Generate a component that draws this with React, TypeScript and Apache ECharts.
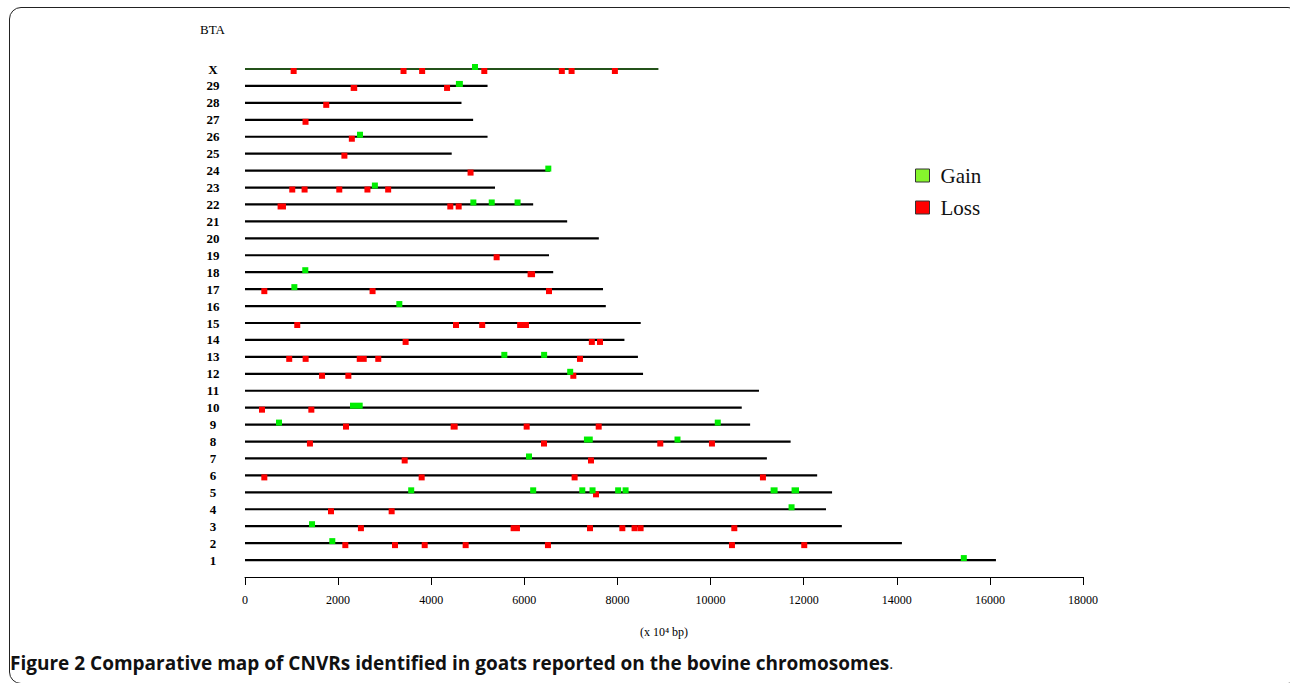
import React, { useEffect, useRef } from "react";
import * as echarts from "echarts";

// Bovine chromosomes (BTA), bottom to top
const chromosomes = [
  "1", "2", "3", "4", "5", "6", "7", "8", "9", "10",
  "11", "12", "13", "14", "15", "16", "17", "18", "19", "20",
  "21", "22", "23", "24", "25", "26", "27", "28", "29", "X",
];

// chromosome lengths (x 10^4 bp)
const chromLengths = [
  16130, 14110, 12820, 12480, 12610, 12290, 11210, 11720, 10850, 10670,
  11040, 8550, 8440, 8150, 8500, 7750, 7690, 6620, 6530, 7600,
  6920, 6190, 5370, 6550, 4440, 5210, 4900, 4650, 5210, 8880,
];

// [chromosome, start, end] (x 10^4 bp)
const gainCNVRs: [string, number, number][] = [
  ["X", 4880, 5000],
  ["29", 4530, 4680],
  ["26", 2430, 2510],
  ["24", 6470, 6560],
  ["23", 2750, 2830],
  ["22", 4870, 4940], ["22", 5260, 5340], ["22", 5820, 5890],
  ["18", 1230, 1360],
  ["17", 1030, 1090],
  ["16", 3280, 3350],
  ["13", 5530, 5610], ["13", 6390, 6460],
  ["12", 6950, 7020],
  ["10", 2255, 2528],
  ["9", 690, 770], ["9", 10120, 10190],
  ["8", 7280, 7470], ["8", 9250, 9330],
  ["7", 6060, 6140],
  ["5", 3540, 3600], ["5", 6150, 6230], ["5", 7210, 7280], ["5", 7430, 7500],
  ["5", 7980, 8050], ["5", 8140, 8210], ["5", 11290, 11440], ["5", 11740, 11900],
  ["4", 11700, 11780],
  ["3", 1400, 1480],
  ["2", 1830, 1920],
  ["1", 15400, 15480],
];

const lossCNVRs: [string, number, number][] = [
  ["X", 1010, 1080], ["X", 3370, 3440], ["X", 3770, 3840], ["X", 5100, 5180],
  ["X", 6770, 6840], ["X", 6980, 7050], ["X", 7910, 7980],
  ["29", 2270, 2410], ["29", 4300, 4380],
  ["28", 1710, 1780],
  ["27", 1260, 1340],
  ["26", 2260, 2330],
  ["25", 2100, 2170],
  ["24", 4800, 4890],
  ["23", 980, 1050], ["23", 1240, 1320], ["23", 1990, 2060], ["23", 2590, 2670], ["23", 3040, 3110],
  ["22", 700, 880], ["22", 4375, 4445], ["22", 4555, 4625],
  ["19", 5360, 5450],
  ["18", 6070, 6230],
  ["17", 375, 455], ["17", 2700, 2780], ["17", 6490, 6570],
  ["15", 1085, 1160], ["15", 4500, 4565], ["15", 5060, 5130], ["15", 5875, 5945], ["15", 6000, 6070],
  ["14", 3410, 3490], ["14", 7410, 7490], ["14", 7590, 7660],
  ["13", 910, 990], ["13", 1265, 1340], ["13", 2400, 2615], ["13", 2830, 2895], ["13", 7155, 7235],
  ["12", 1620, 1690], ["12", 2180, 2260], ["12", 7010, 7095],
  ["10", 325, 405], ["10", 1395, 1455],
  ["9", 2130, 2210], ["9", 4417, 4568], ["9", 6020, 6080], ["9", 7560, 7635],
  ["8", 1360, 1430], ["8", 6390, 6455], ["8", 8885, 8955], ["8", 9990, 10070],
  ["7", 3395, 3465], ["7", 7400, 7465],
  ["6", 375, 455], ["6", 3755, 3835], ["6", 7040, 7120], ["6", 11085, 11165],
  ["5", 7500, 7580],
  ["4", 1805, 1890], ["4", 3110, 3190],
  ["3", 2450, 2530], ["3", 5705, 5906], ["3", 7370, 7450], ["3", 8065, 8145],
  ["3", 8330, 8405], ["3", 8460, 8535], ["3", 10470, 10550],
  ["2", 2120, 2190], ["2", 3180, 3265], ["2", 3820, 3900], ["2", 4705, 4775],
  ["2", 6470, 6545], ["2", 10420, 10500], ["2", 11970, 12055],
];

const xMin = 0;
const xMax = 18000;
const xInterval = 2000;

const rowOf = (c: string) => chromosomes.indexOf(c) + 1;

export default function App() {
  const ref = useRef<HTMLDivElement>(null);

  useEffect(() => {
    if (!ref.current) return;
    const chart = echarts.init(ref.current, null, { renderer: "svg" });

    const lineData = chromLengths.map((len, i) => [i + 1, len]);
    const gainData = gainCNVRs.map(([c, s, e]) => [rowOf(c), s, e]);
    const lossData = lossCNVRs.map(([c, s, e]) => [rowOf(c), s, e]);

    const markerRenderer = (dy: number, color: string) => (params: any, api: any) => {
      const row = api.value(0);
      const a = api.coord([api.value(1), row]);
      const b = api.coord([api.value(2), row]);
      const w = Math.max(6, b[0] - a[0]);
      const cx = (a[0] + b[0]) / 2;
      const h = 6;
      return {
        type: "rect",
        shape: { x: cx - w / 2, y: a[1] + dy - h / 2, width: w, height: h },
        style: { fill: color },
      };
    };

    const option: any = {
      animation: false,
      backgroundColor: "#ffffff",
      grid: { left: 245, right: 207, top: 69, bottom: 106, containLabel: false },
      legend: {
        data: [
          { name: "Gain", itemStyle: { color: "#86f52c", borderColor: "#333", borderWidth: 1 } },
          { name: "Loss", itemStyle: { color: "#ff0000", borderColor: "#333", borderWidth: 1 } },
        ],
        orient: "vertical",
        left: 910,
        top: 160,
        icon: "rect",
        itemWidth: 14,
        itemHeight: 13,
        itemGap: 11,
        textStyle: {
          fontFamily: "Liberation Serif",
          fontSize: 21,
          color: "#111",
          padding: [0, 0, 0, 6],
        },
        selectedMode: false,
      },
      xAxis: {
        type: "value",
        min: xMin,
        max: xMax,
        interval: xInterval,
        axisLine: { show: true, onZero: false, lineStyle: { color: "#000", width: 1 } },
        axisTick: { show: true, length: 8, lineStyle: { color: "#000" } },
        axisLabel: {
          margin: 17,
          fontFamily: "Liberation Serif",
          fontSize: 12,
          color: "#000",
          formatter: (v: number) => String(v),
        },
        splitLine: { show: false },
        name: "(x 10⁴ bp)",
        nameLocation: "middle",
        nameGap: 49,
        nameTextStyle: { fontFamily: "Liberation Serif", fontSize: 12, color: "#000" },
      },
      yAxis: {
        type: "value",
        min: 0,
        max: 30,
        interval: 1,
        axisLine: { show: false },
        axisTick: { show: false },
        splitLine: { show: false },
        axisLabel: {
          showMaxLabel: true,
          showMinLabel: true,
          align: "center",
          margin: 32,
          fontFamily: "Liberation Serif",
          fontWeight: "bold",
          fontSize: 13,
          color: "#000",
          formatter: (v: number) => (v >= 1 && v <= 30 ? chromosomes[v - 1] : ""),
        },
      },
      graphic: [
        {
          type: "text",
          left: 200,
          top: 23,
          style: { text: "BTA", fontFamily: "Liberation Serif", fontSize: 13, fill: "#000" },
        },
        {
          type: "text",
          left: 10,
          top: 653,
          style: {
            text: "{b|Figure 2 Comparative map of CNVRs identified in goats reported on the bovine chromosomes}{n|.}",
            rich: {
              b: { fontFamily: "Open Sans", fontWeight: "bold", fontSize: 19, fill: "#111" },
              n: { fontFamily: "Open Sans", fontSize: 15, fill: "#111" },
            },
          },
        },
      ],
      series: [
        {
          name: "Chromosome",
          type: "custom",
          clip: false,
          data: lineData,
          encode: { x: 1, y: 0 },
          renderItem: (params: any, api: any) => {
            const row = api.value(0);
            const a = api.coord([0, row]);
            const b = api.coord([api.value(1), row]);
            return {
              type: "line",
              shape: { x1: a[0], y1: a[1], x2: b[0], y2: b[1] },
              style: { stroke: row === 30 ? "#24521a" : "#000", lineWidth: 2.2 },
            };
          },
          z: 1,
        },
        {
          name: "Gain",
          type: "custom",
          clip: false,
          data: gainData,
          encode: { x: [1, 2], y: 0 },
          itemStyle: { color: "#00ee00" },
          renderItem: markerRenderer(-2, "#00ee00"),
          z: 3,
        },
        {
          name: "Loss",
          type: "custom",
          clip: false,
          data: lossData,
          encode: { x: [1, 2], y: 0 },
          itemStyle: { color: "#ff0000" },
          renderItem: markerRenderer(2, "#ff0000"),
          z: 2,
        },
      ],
    };

    chart.setOption(option);
    return () => chart.dispose();
  }, []);

  return (
    <div style={{ position: "absolute", left: 0, top: 0, width: 1290, height: 683, overflow: "hidden", background: "#fff" }}>
      <div ref={ref} style={{ position: "absolute", left: 0, top: 0, width: 1290, height: 683 }} />
      <div
        style={{
          position: "absolute",
          left: 9,
          top: 7,
          width: 1291,
          height: 677,
          border: "1px solid #222",
          borderRadius: 12,
          pointerEvents: "none",
          boxSizing: "border-box",
        }}
      />
    </div>
  );
}
